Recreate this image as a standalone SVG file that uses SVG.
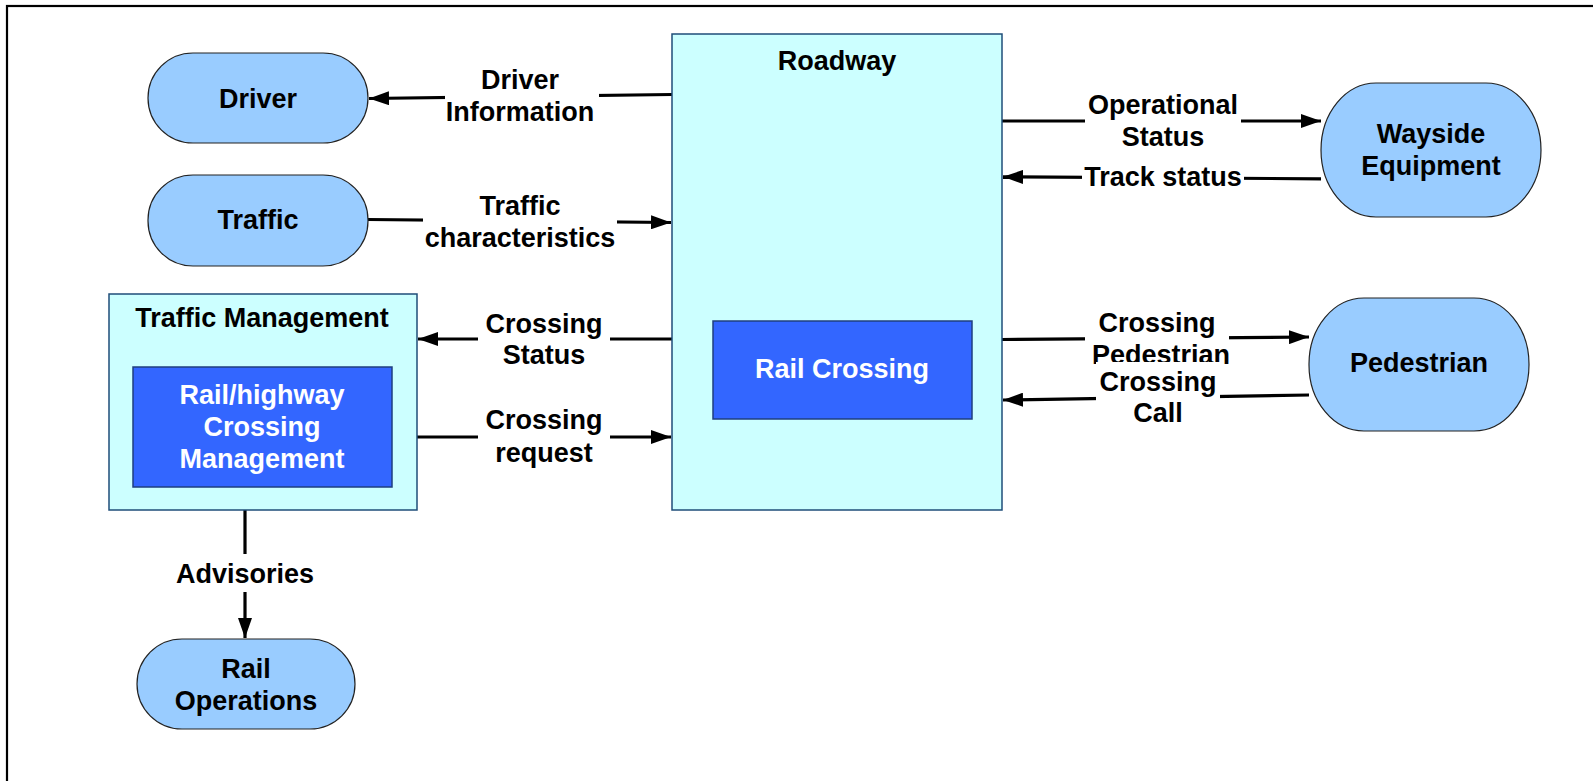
<svg xmlns="http://www.w3.org/2000/svg" width="1593" height="781" viewBox="0 0 1593 781">
<defs>
<marker id="arr" viewBox="0 0 20 14" refX="20" refY="7" markerWidth="20" markerHeight="14" markerUnits="userSpaceOnUse" orient="auto">
<path d="M0,0 L20,7 L0,14 Z" fill="#000"/>
</marker>
<style>
text{font-family:"Liberation Sans",Arial,sans-serif;font-weight:bold;font-size:27px;text-anchor:middle;fill:#000}
.w{fill:#fff}
.pill{fill:#99CCFF;stroke:#222;stroke-width:1.2}
.box{fill:#CCFFFF;stroke:#1F4E79;stroke-width:1.5}
.inner{fill:#3366FF;stroke:#1F3F7F;stroke-width:1.5}
.conn{stroke:#000;stroke-width:3.2;fill:none}
.bg{fill:#fff}
</style>
</defs>
<rect x="0" y="0" width="1593" height="781" fill="#fff"/>
<rect x="7" y="6" width="1620" height="820" fill="none" stroke="#000" stroke-width="2.2"/>

<g id="connectors">
<line class="conn" x1="672" y1="94.5" x2="369" y2="98.5" marker-end="url(#arr)"/>
<line class="conn" x1="368" y1="219.5" x2="671" y2="222.5" marker-end="url(#arr)"/>
<line class="conn" x1="672" y1="339" x2="418" y2="339" marker-end="url(#arr)"/>
<line class="conn" x1="417" y1="437" x2="671" y2="437" marker-end="url(#arr)"/>
<line class="conn" x1="245" y1="510" x2="245" y2="638" marker-end="url(#arr)"/>
<line class="conn" x1="1002" y1="121" x2="1321" y2="121" marker-end="url(#arr)"/>
<line class="conn" x1="1321" y1="178.8" x2="1003" y2="176.8" marker-end="url(#arr)"/>
<line class="conn" x1="1002" y1="339.5" x2="1309" y2="337" marker-end="url(#arr)"/>
<line class="conn" x1="1309" y1="395" x2="1003" y2="400" marker-end="url(#arr)"/>
</g>

<g id="labels">
<rect class="bg" x="445" y="62" width="154" height="66"/>
<text x="520" y="89">Driver</text><text x="520" y="121">Information</text>
<rect class="bg" x="423" y="188" width="194" height="66"/>
<text x="520" y="215">Traffic</text><text x="520" y="247">characteristics</text>
<rect class="bg" x="478" y="306" width="132" height="66"/>
<text x="544" y="333">Crossing</text><text x="544" y="364">Status</text>
<rect class="bg" x="478" y="402" width="132" height="68"/>
<text x="544" y="429">Crossing</text><text x="544" y="462">request</text>
<rect class="bg" x="173" y="554" width="144" height="38"/>
<text x="245" y="583">Advisories</text>
<rect class="bg" x="1085" y="88" width="156" height="66"/>
<text x="1163" y="114">Operational</text><text x="1163" y="146">Status</text>
<rect class="bg" x="1082" y="160" width="162" height="34"/>
<text x="1163" y="186">Track status</text>
<rect class="bg" x="1085" y="306" width="144" height="56"/>
<text x="1157" y="332">Crossing</text><text x="1161" y="364">Pedestrian</text>
<rect class="bg" x="1096" y="362" width="124" height="68"/>
<text x="1158" y="391">Crossing</text><text x="1158" y="422">Call</text>
</g>

<g id="driver">
<rect class="pill" x="148" y="53" width="220" height="90" rx="45" ry="45"/>
<text x="258" y="108">Driver</text>
</g>
<g id="traffic">
<rect class="pill" x="148" y="175" width="220" height="91" rx="45" ry="45"/>
<text x="258" y="229">Traffic</text>
</g>
<g id="traffic-management">
<rect class="box" x="109" y="294" width="308" height="216"/>
<text x="262" y="327">Traffic Management</text>
</g>
<g id="rail-highway-crossing-management">
<rect class="inner" x="133" y="367" width="259" height="120"/>
<text class="w" x="262" y="404">Rail/highway</text>
<text class="w" x="262" y="436">Crossing</text>
<text class="w" x="262" y="468">Management</text>
</g>
<g id="rail-operations">
<rect class="pill" x="137" y="639" width="218" height="90" rx="45" ry="45"/>
<text x="246" y="678">Rail</text>
<text x="246" y="710">Operations</text>
</g>
<g id="roadway">
<rect class="box" x="672" y="34" width="330" height="476"/>
<text x="837" y="70">Roadway</text>
</g>
<g id="rail-crossing">
<rect class="inner" x="713" y="321" width="259" height="98"/>
<text class="w" x="842" y="378">Rail Crossing</text>
</g>
<g id="wayside-equipment">
<rect class="pill" x="1321" y="83" width="220" height="134" rx="55" ry="67"/>
<text x="1431" y="143">Wayside</text>
<text x="1431" y="175">Equipment</text>
</g>
<g id="pedestrian">
<rect class="pill" x="1309" y="298" width="220" height="133" rx="55" ry="66"/>
<text x="1419" y="372">Pedestrian</text>
</g>
</svg>
